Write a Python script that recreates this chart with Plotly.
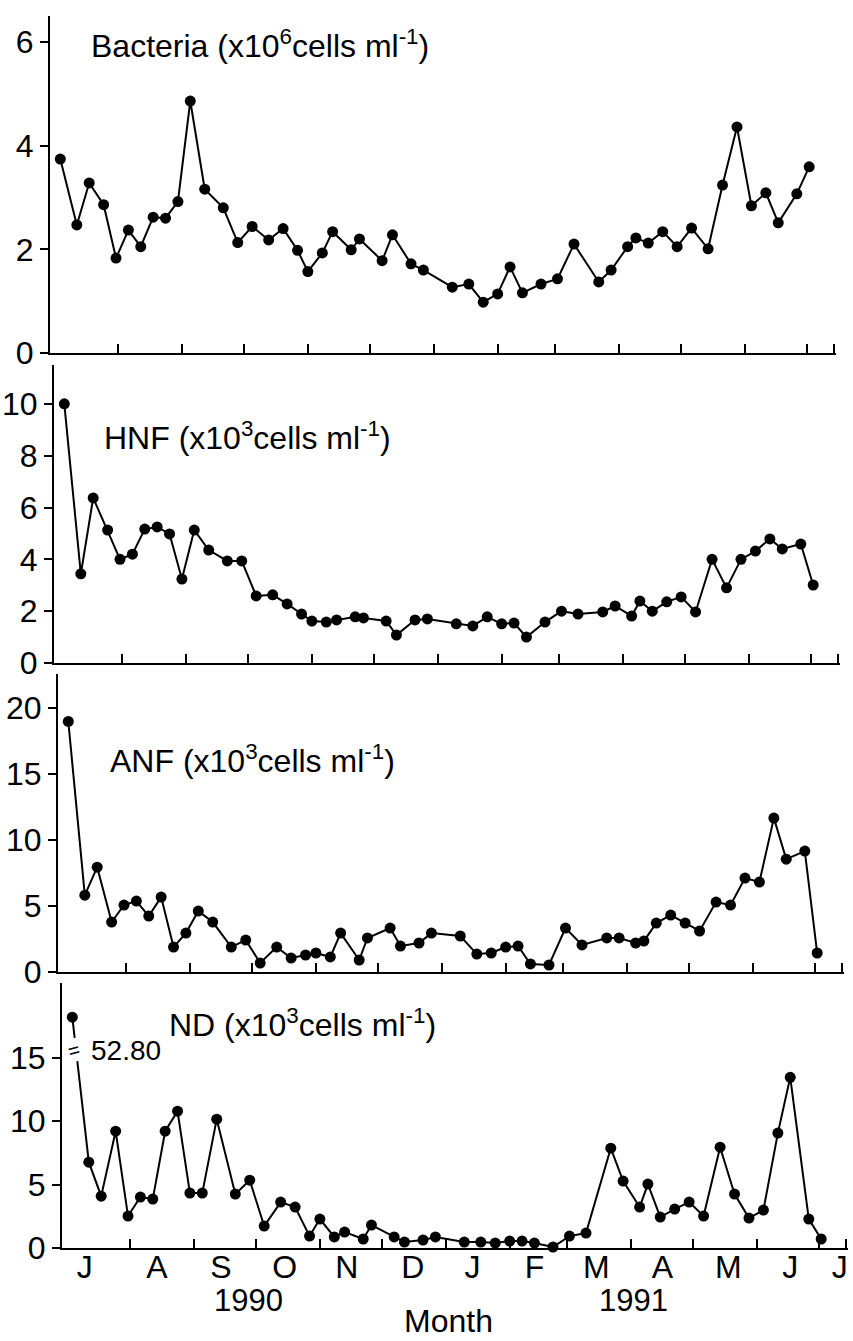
import plotly.graph_objects as go

# ---------------- data ----------------
sample_dates = [
    "1990-07-04", "1990-07-12", "1990-07-18", "1990-07-25", "1990-07-31",
    "1990-08-06", "1990-08-12", "1990-08-18", "1990-08-24", "1990-08-30",
    "1990-09-05", "1990-09-12", "1990-09-21", "1990-09-28", "1990-10-05",
    "1990-10-13", "1990-10-20", "1990-10-27", "1990-11-01", "1990-11-08",
    "1990-11-13", "1990-11-22", "1990-11-26", "1990-12-07", "1990-12-12",
    "1990-12-21", "1990-12-27", "1991-01-10", "1991-01-18", "1991-01-25",
    "1991-02-01", "1991-02-07", "1991-02-13", "1991-02-22", "1991-03-02",
    "1991-03-10", "1991-03-22", "1991-03-28", "1991-04-05", "1991-04-09",
    "1991-04-15", "1991-04-22", "1991-04-29", "1991-05-06", "1991-05-14",
    "1991-05-21", "1991-05-28", "1991-06-04", "1991-06-11", "1991-06-17",
    "1991-06-26", "1991-07-02",
]

bacteria = [3.74, 2.47, 3.28, 2.86, 1.83, 2.37, 2.05, 2.62, 2.60, 2.92,
            4.86, 3.16, 2.80, 2.13, 2.44, 2.18, 2.40, 1.98, 1.57, 1.93,
            2.34, 1.99, 2.20, 1.78, 2.28, 1.72, 1.60, 1.27, 1.33, 0.98,
            1.14, 1.66, 1.16, 1.33, 1.43, 2.10, 1.37, 1.60, 2.05, 2.22,
            2.12, 2.34, 2.05, 2.41, 2.01, 3.24, 4.36, 2.84, 3.09, 2.51,
            3.07, 3.59]

hnf = [10.0, 3.44, 6.37, 5.13, 4.00, 4.20, 5.17, 5.25, 4.98, 3.24,
       5.13, 4.36, 3.94, 3.94, 2.59, 2.63, 2.28, 1.89, 1.62, 1.58,
       1.66, 1.78, 1.74, 1.62, 1.08, 1.66, 1.70, 1.51, 1.43, 1.78,
       1.51, 1.54, 1.00, 1.58, 2.00, 1.89, 1.97, 2.20, 1.81, 2.39,
       2.00, 2.36, 2.55, 1.97, 4.00, 2.90, 4.00, 4.32, 4.79, 4.40,
       4.59, 3.01]

anf = [19.0, 5.83, 7.95, 3.79, 5.08, 5.38, 4.24, 5.68, 1.89, 2.95,
       4.62, 3.79, 1.89, 2.42, 0.68, 1.89, 1.06, 1.29, 1.44, 1.14,
       2.95, 0.91, 2.58, 3.33, 1.97, 2.20, 2.95, 2.73, 1.36, 1.44,
       1.89, 1.97, 0.61, 0.53, 3.33, 2.05, 2.58, 2.58, 2.20, 2.35,
       3.71, 4.32, 3.71, 3.11, 5.30, 5.08, 7.12, 6.82, 11.67, 8.56,
       9.17, 1.44]

# first ND value (52.80) is drawn on a broken axis at ~18.2
nd = [18.2, 6.77, 4.09, 9.21, 2.52, 4.02, 3.86, 9.21, 10.79, 4.33,
      4.33, 10.16, 4.25, 5.35, 1.73, 3.62, 3.23, 0.94, 2.28, 0.87,
      1.26, 0.71, 1.81, 0.87, 0.47, 0.63, 0.87, 0.47, 0.47, 0.39,
      0.55, 0.55, 0.39, 0.08, 0.94, 1.18, 7.87, 5.28, 3.23, 5.04,
      2.44, 3.07, 3.62, 2.52, 7.95, 4.25, 2.36, 2.99, 9.06, 13.46,
      2.28, 0.71]
nd_first_actual = "52.80"

series_labels = [
    "Bacteria (x10<sup>6</sup>cells ml<sup>-1</sup>)",
    "HNF (x10<sup>3</sup>cells ml<sup>-1</sup>)",
    "ANF (x10<sup>3</sup>cells ml<sup>-1</sup>)",
    "ND (x10<sup>3</sup>cells ml<sup>-1</sup>)",
]

y_tickvals = [[0, 2, 4, 6], [0, 2, 4, 6, 8, 10], [0, 5, 10, 15, 20], [0, 5, 10, 15]]
y_ranges = [[0, 6.5], [0, 11.5], [0, 22.6], [0, 20.9]]

month_boundaries = ["1990-08-01", "1990-09-01", "1990-10-01", "1990-11-01",
                    "1990-12-01", "1991-01-01", "1991-02-01", "1991-03-01",
                    "1991-04-01", "1991-05-01", "1991-06-01", "1991-07-01",
                    "1991-07-14"]
month_labels = ["J", "A", "S", "O", "N", "D", "J", "F", "M", "A", "M", "J", "J"]
month_label_dates = ["1990-07-10", "1990-08-14", "1990-09-14", "1990-10-15",
                     "1990-11-14", "1990-12-16", "1991-01-14", "1991-02-13",
                     "1991-03-15", "1991-04-16", "1991-05-18", "1991-06-17",
                     "1991-07-11"]
year_labels = ["1990", "1991"]
x_range = ["1990-06-29", "1991-07-15"]

# ---------------- layout geometry (pixels) ----------------
W, H = 853, 1341
FONT = "Liberation Sans, Arial, sans-serif"
FS = 32
x_px = [(50, 836), (54, 840), (58, 844), (62, 848)]
y_px = [(16, 353), (365, 663), (674, 972), (983, 1248)]
label_pos = [(89, 44), (102, 436), (108, 759), (167, 1023)]

fig = go.Figure()
all_series = [bacteria, hnf, anf, nd]
for i, vals in enumerate(all_series):
    sfx = "" if i == 0 else str(i + 1)
    fig.add_trace(go.Scatter(
        x=sample_dates, y=vals, mode="lines+markers",
        xaxis="x" + sfx, yaxis="y" + sfx,
        line=dict(color="black", width=2),
        marker=dict(color="black", size=11),
        cliponaxis=False, showlegend=False, hoverinfo="x+y",
    ))

layout = dict(
    width=W, height=H,
    margin=dict(l=0, r=0, t=0, b=0, autoexpand=False),
    paper_bgcolor="white", plot_bgcolor="white",
    font=dict(family=FONT, size=FS, color="black"),
    showlegend=False,
)

annotations = []
for i in range(4):
    sfx = "" if i == 0 else str(i + 1)
    xl, xr = x_px[i]
    yt, yb = y_px[i]
    bottom = (i == 3)
    xa = dict(
        type="date", range=x_range, domain=[xl / W, xr / W],
        anchor="y" + sfx, showgrid=False, zeroline=False,
        showline=True, linecolor="black", linewidth=2,
        ticks="", fixedrange=True, automargin=False,
        minor=dict(tickmode="array", tickvals=month_boundaries,
                   ticks="inside", ticklen=9, tickwidth=2,
                   tickcolor="black", showgrid=False),
    )
    if bottom:
        xa.update(tickmode="array", tickvals=month_label_dates,
                  ticktext=month_labels, showticklabels=True,
                  tickfont=dict(size=FS), ticklabelstandoff=-10)
    else:
        xa.update(showticklabels=False)
    ya = dict(
        range=y_ranges[i], domain=[1 - yb / H, 1 - yt / H],
        anchor="x" + sfx, showgrid=False, zeroline=False,
        showline=True, linecolor="black", linewidth=2,
        tickmode="array", tickvals=y_tickvals[i],
        ticks="outside", ticklen=8, tickwidth=2, tickcolor="black",
        tickfont=dict(size=FS), fixedrange=True, automargin=False,
    )
    layout["xaxis" + sfx] = xa
    layout["yaxis" + sfx] = ya
    lx, ly = label_pos[i]
    annotations.append(dict(
        xref="paper", yref="paper", x=lx / W, y=1 - ly / H,
        xanchor="left", yanchor="middle", showarrow=False,
        text=series_labels[i], font=dict(size=FS),
    ))

# year and axis title
annotations.append(dict(xref="paper", yref="paper", x=248 / W, y=1 - 1300 / H,
                        text=year_labels[0], showarrow=False,
                        xanchor="center", yanchor="middle", font=dict(size=31)))
annotations.append(dict(xref="paper", yref="paper", x=633 / W, y=1 - 1300 / H,
                        text=year_labels[1], showarrow=False,
                        xanchor="center", yanchor="middle", font=dict(size=31)))
annotations.append(dict(xref="paper", yref="paper", x=449 / W, y=0,
                        text="Month", showarrow=False,
                        xanchor="center", yanchor="bottom", font=dict(size=FS)))

# axis break on the first ND segment and its true value
annotations.append(dict(xref="x4", yref="y4", x="1990-07-05", y=15.6,
                        text="=", showarrow=False, bgcolor="white",
                        borderpad=0, xanchor="center", yanchor="middle",
                        font=dict(size=20), textangle=-15))
annotations.append(dict(xref="x4", yref="y4", x="1990-07-12", y=15.6,
                        text=nd_first_actual, showarrow=False,
                        xanchor="left", yanchor="middle", font=dict(size=28)))

layout["annotations"] = annotations
fig.update_layout(**layout)
fig.write_html("out.html")
